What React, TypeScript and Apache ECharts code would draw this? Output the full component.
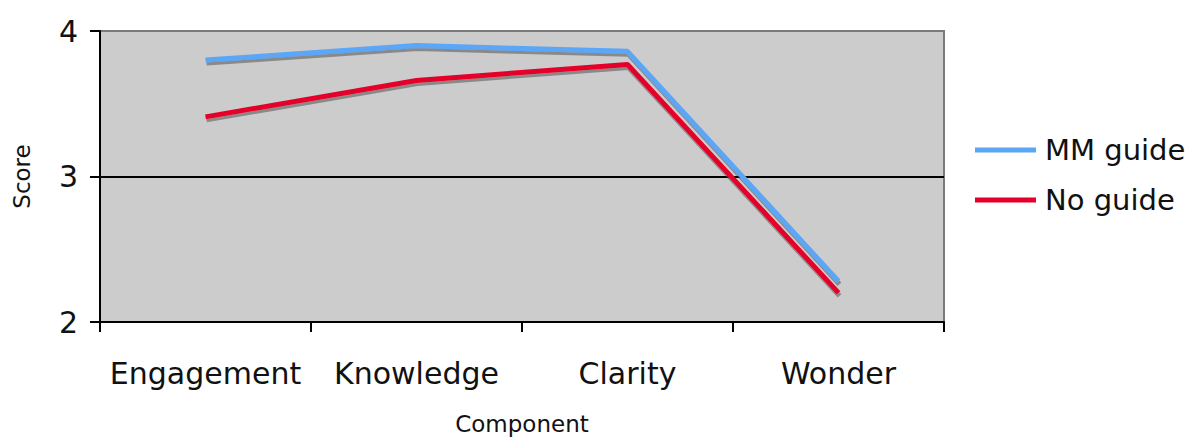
import React, { useEffect, useRef } from "react";
import * as echarts from "echarts";

const categories = ["Engagement", "Knowledge", "Clarity", "Wonder"];
const mmGuide = [3.8, 3.9, 3.86, 2.28];
const noGuide = [3.41, 3.66, 3.77, 2.2];
const yTicks = { min: 2, max: 4, interval: 1 };

const FONT = "DejaVu Sans";

export default function App() {
  const ref = useRef<HTMLDivElement>(null);
  useEffect(() => {
    if (!ref.current) return;
    const chart = echarts.init(ref.current, null, { renderer: "svg" });
    const shadow = {
      shadowColor: "rgba(70,70,70,0.5)",
      shadowOffsetX: 1,
      shadowOffsetY: 3,
      shadowBlur: 1,
    };
    chart.setOption({
      animation: false,
      backgroundColor: "#ffffff",
      grid: {
        left: 100,
        right: 255,
        top: 31,
        bottom: 116,
        show: true,
        backgroundColor: "#cccccc",
        borderColor: "#7a7a7a",
        borderWidth: 2,
      },
      legend: {
        orient: "vertical",
        left: 975,
        top: 133,
        padding: 0,
        itemWidth: 61,
        itemHeight: 5,
        itemGap: 16,
        icon: "rect",
        textStyle: { fontFamily: FONT, fontSize: 29, color: "#111", lineHeight: 34, padding: [0, 0, 0, 4] },
        data: ["MM guide", "No guide"],
      },
      xAxis: {
        type: "category",
        data: categories,
        boundaryGap: true,
        name: "Component",
        nameLocation: "middle",
        nameGap: 90,
        nameTextStyle: { fontFamily: FONT, fontSize: 23, color: "#111" },
        axisLine: { show: true, lineStyle: { color: "#000", width: 2 } },
        axisTick: { show: true, interval: 0, length: 10, inside: false, lineStyle: { color: "#000", width: 2 } },
        axisLabel: { interval: 0, fontFamily: FONT, fontSize: 30, color: "#111", margin: 36 },
        splitLine: { show: false },
      },
      yAxis: {
        type: "value",
        min: yTicks.min,
        max: yTicks.max,
        interval: yTicks.interval,
        name: "Score",
        nameLocation: "middle",
        nameGap: 67,
        nameTextStyle: { fontFamily: FONT, fontSize: 23, color: "#111" },
        axisLine: { show: true, lineStyle: { color: "#000", width: 2 } },
        axisTick: { show: true, length: 10, lineStyle: { color: "#000", width: 2 } },
        axisLabel: { fontFamily: FONT, fontSize: 30, color: "#111", margin: 22 },
        splitLine: { show: true, lineStyle: { color: ["transparent", "#000", "transparent"], width: 2 } },
      },
      series: [
        {
          name: "MM guide",
          type: "line",
          data: mmGuide,
          symbol: "none",
          color: "#5ba6f7",
          lineStyle: { color: "#5ba6f7", width: 5, ...shadow },
        },
        {
          name: "No guide",
          type: "line",
          data: noGuide,
          symbol: "none",
          color: "#e4002b",
          lineStyle: { color: "#e4002b", width: 5, ...shadow },
        },
      ],
    });
    return () => chart.dispose();
  }, []);
  return (
    <div
      ref={ref}
      style={{ position: "absolute", left: 0, top: 0, width: 1199, height: 440 }}
    />
  );
}
